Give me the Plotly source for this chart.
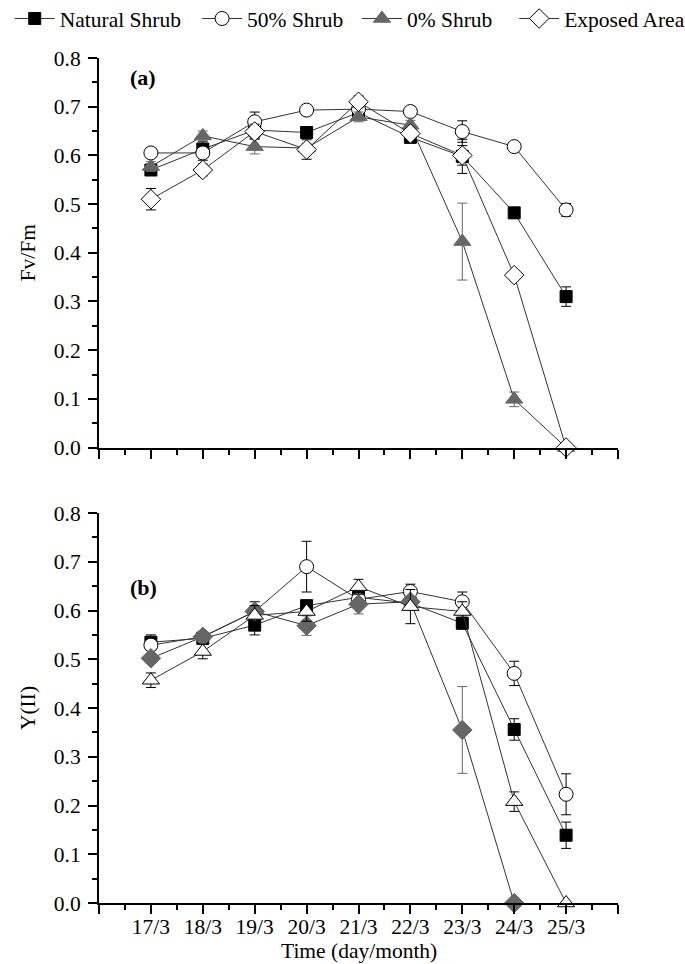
import plotly.graph_objects as go

days = [17, 18, 19, 20, 21, 22, 23, 24, 25]
day_labels = ["17/3", "18/3", "19/3", "20/3", "21/3", "22/3", "23/3", "24/3", "25/3"]
series_names = ["Natural Shrub", "50% Shrub", "0% Shrub", "Exposed Area"]

# Panel (a): Fv/Fm
fvfm_natural = [0.570, 0.613, 0.652, 0.647, 0.688, 0.637, 0.598, 0.482, 0.310]
fvfm_natural_err = [0.010, 0.015, 0.015, 0.012, 0.010, 0.010, 0.035, 0.010, 0.020]
fvfm_50 = [0.605, 0.605, 0.669, 0.693, 0.695, 0.690, 0.649, 0.618, 0.488]
fvfm_50_err = [0.008, 0.015, 0.020, 0.010, 0.010, 0.010, 0.022, 0.008, 0.013]
fvfm_0 = [0.577, 0.640, 0.618, 0.615, 0.679, 0.662, 0.423, 0.099, 0.0]
fvfm_0_err = [0.010, 0.010, 0.015, 0.010, 0.010, 0.010, 0.079, 0.015, 0.0]
fvfm_exposed = [0.510, 0.570, 0.649, 0.612, 0.710, 0.645, 0.600, 0.354, 0.0]
fvfm_exposed_err = [0.022, 0.012, 0.015, 0.020, 0.012, 0.010, 0.020, 0.008, 0.0]

# Panel (b): Y(II)
yii_natural = [0.535, 0.543, 0.570, 0.610, 0.627, 0.615, 0.574, 0.356, 0.139]
yii_natural_err = [0.015, 0.010, 0.020, 0.010, 0.015, 0.010, 0.012, 0.022, 0.027]
yii_50 = [0.529, 0.546, 0.598, 0.690, 0.623, 0.639, 0.618, 0.471, 0.223]
yii_50_err = [0.010, 0.010, 0.020, 0.052, 0.010, 0.015, 0.020, 0.025, 0.042]
yii_0 = [0.502, 0.546, 0.598, 0.569, 0.613, 0.618, 0.355, 0.0, None]
yii_0_err = [0.010, 0.010, 0.010, 0.020, 0.020, 0.010, 0.089, 0.0, 0.0]
yii_exposed = [0.457, 0.516, 0.590, 0.598, 0.649, 0.608, 0.598, 0.208, 0.0]
yii_exposed_err = [0.015, 0.015, 0.020, 0.020, 0.015, 0.035, 0.020, 0.020, 0.0]

FONT = "Liberation Serif"
FS = 21.5
GRAY = "#666666"
LINE = "#333333"

styles_a = [
    dict(symbol="square", color="black", line_color="black", size=12, err="black"),
    dict(symbol="circle", color="white", line_color="black", size=14, err="black"),
    dict(symbol="triangle-up", color=GRAY, line_color=GRAY, size=15, err=GRAY),
    dict(symbol="diamond", color="white", line_color="black", size=15, err="black"),
]
styles_b = [
    dict(symbol="square", color="black", line_color="black", size=12, err="black"),
    dict(symbol="circle", color="white", line_color="black", size=14, err="black"),
    dict(symbol="diamond", color=GRAY, line_color=GRAY, size=15, err=GRAY),
    dict(symbol="triangle-up", color="white", line_color="black", size=15, err="black"),
]

data_a = [(fvfm_natural, fvfm_natural_err), (fvfm_50, fvfm_50_err),
          (fvfm_0, fvfm_0_err), (fvfm_exposed, fvfm_exposed_err)]
data_b = [(yii_natural, yii_natural_err), (yii_50, yii_50_err),
          (yii_0, yii_0_err), (yii_exposed, yii_exposed_err)]

legend_ids = ["legend", "legend2", "legend3", "legend4"]
legend_x = [-0.172, 0.189, 0.497, 0.800]

fig = go.Figure()


def add(vals, errs, st, name, xa, ya, legend, lid):
    fig.add_trace(go.Scatter(
        x=days, y=vals, name=name, mode="lines+markers",
        xaxis=xa, yaxis=ya, showlegend=legend, legend=lid, cliponaxis=False,
        line=dict(color=LINE, width=1),
        marker=dict(symbol=st["symbol"], size=st["size"], color=st["color"],
                    line=dict(color=st["line_color"], width=1)),
        error_y=dict(type="data", array=errs, visible=True,
                     color=st["err"], thickness=1, width=5),
    ))


for (v, e), st, n, lid in zip(data_a, styles_a, series_names, legend_ids):
    add(v, e, st, n, "x", "y", True, lid)
for (v, e), st, n, lid in zip(data_b, styles_b, series_names, legend_ids):
    add(v, e, st, n, "x2", "y2", False, lid)

tickvals = [16] + days + [26]
ticktext = [""] + day_labels + [""]

xcommon = dict(range=[16, 26], tickmode="array", tickvals=tickvals,
               showline=True, linecolor="black", linewidth=2,
               ticks="outside", ticklen=9, tickwidth=2, tickcolor="black",
               showgrid=False, zeroline=False, ticklabelstandoff=-6,
               minor=dict(tick0=16.5, dtick=1, ticks="outside", ticklen=5,
                          tickwidth=2, tickcolor="black", showgrid=False),
               tickfont=dict(family=FONT, size=FS, color="black"))
ycommon = dict(range=[0, 0.8], dtick=0.1, tick0=0, tickformat=".1f",
               showline=True, linecolor="black", linewidth=2,
               ticks="outside", ticklen=9, tickwidth=2, tickcolor="black",
               showgrid=False, zeroline=False, ticklabelstandoff=3,
               minor=dict(dtick=0.05, ticks="outside", ticklen=5,
                          tickwidth=2, tickcolor="black", showgrid=False),
               tickfont=dict(family=FONT, size=FS, color="black"))

legends = {}
for lid, lx in zip(legend_ids, legend_x):
    legends[lid] = dict(orientation="h", x=lx, xanchor="left", y=1.071,
                        yanchor="top", yref="paper",
                        font=dict(family=FONT, size=FS, color="black"),
                        itemwidth=40, bgcolor="rgba(0,0,0,0)")

fig.update_layout(
    width=685, height=964,
    margin=dict(l=99, r=67, t=58, b=61, autoexpand=False),
    paper_bgcolor="white", plot_bgcolor="white",
    font=dict(family=FONT, size=FS, color="black"),
    xaxis=dict(**xcommon, anchor="y", ticktext=[""] * len(tickvals)),
    yaxis=dict(**ycommon, domain=[0.539, 1.0], anchor="x",
               title=dict(text="Fv/Fm", standoff=12,
                          font=dict(family=FONT, size=FS))),
    xaxis2=dict(**xcommon, anchor="y2", ticktext=ticktext),
    yaxis2=dict(**ycommon, domain=[0.0, 0.4615], anchor="x2",
                title=dict(text="Y(II)", standoff=12,
                           font=dict(family=FONT, size=FS))),
    annotations=[
        dict(text="<b>(a)</b>", xref="x domain", yref="y domain",
             x=0.085, y=0.949, xanchor="center", yanchor="middle",
             showarrow=False, font=dict(family=FONT, size=22)),
        dict(text="<b>(b)</b>", xref="x2 domain", yref="y2 domain",
             x=0.085, y=0.81, xanchor="center", yanchor="middle",
             showarrow=False, font=dict(family=FONT, size=22)),
        dict(text="Time (day/month)", xref="x2 domain", yref="paper",
             x=0.5, y=-0.057, xanchor="center", yanchor="middle",
             showarrow=False, font=dict(family=FONT, size=FS)),
    ],
    **legends,
)

fig.write_html("out.html", config={"displayModeBar": False},
               post_script="document.body.style.margin='0';")
